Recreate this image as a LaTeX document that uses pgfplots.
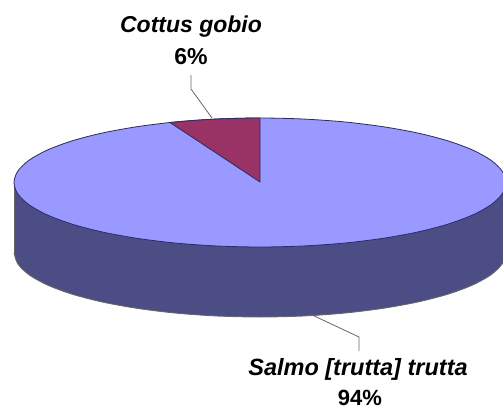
\documentclass[border=0pt]{standalone}
\usepackage{pgfplots}
\pgfplotsset{compat=1.18}
\usepackage{fontspec}
\setmainfont{Liberation Sans}
\definecolor{pietop}{HTML}{9999FF}
\definecolor{pieside}{HTML}{4D4D85}
\definecolor{wedge}{HTML}{993366}
\definecolor{edge}{HTML}{2A2A66}
\definecolor{leader}{HTML}{666666}
\begin{document}
\begin{tikzpicture}
\useasboundingbox (0,0) rectangle (503pt,412pt);
\begin{axis}[
  at={(0,0)}, anchor=south west,
  width=503pt, height=412pt, scale only axis,
  xmin=0, xmax=503, ymin=0, ymax=412, y dir=reverse,
  hide axis,
]
% side: body
\addplot[draw=none, fill=pieside] coordinates {(14,182.5)(506,182.5)(506,252.5)(503,258)(17,258)(14,252.5)} -- cycle;
% side: lower curve
\addplot[smooth, draw=leader, fill=pieside, line width=0.9pt] coordinates {
(14,252.5)(17.7,263.7)(28.8,274.6)(47,284.8)(71.6,294)(101.9,301.9)(137,308.3)(175.9,313.1)(217.3,316)(260,317)(302.7,316)(344.1,313.1)(383,308.3)(418.1,301.9)(448.4,294)(473,284.8)(491.2,274.6)(502.3,263.7)(506,252.5)};
\addplot[draw=leader, line width=0.9pt] coordinates {(14,178)(14,252.5)};
% top face
\addplot[smooth cycle, draw=edge, fill=pietop, line width=0.8pt] coordinates {
(506,182.5)(502.3,193.7)(491.2,204.6)(473,214.8)(448.4,224)(418.1,231.9)(383,238.3)(344.1,243.1)(302.7,246)(260,247)(217.3,246)(175.9,243.1)(137,238.3)(101.9,231.9)(71.6,224)(47,214.8)(28.8,204.6)(17.7,193.7)(14,182.5)(17.7,171.3)(28.8,160.4)(47,150.2)(71.6,141)(101.9,133.1)(137,126.7)(175.9,121.9)(217.3,119)(260,118)(302.7,119)(344.1,121.9)(383,126.7)(418.1,133.1)(448.4,141)(473,150.2)(491.2,160.4)(502.3,171.3)};
% wedge
\addplot[draw=edge, fill=wedge, line width=0.8pt] coordinates {(260,182)(260,118)(240,118.2)(217,119)(195,120.3)(170,122.5)} -- cycle;
% leaders
\addplot[leader, line width=0.8pt] coordinates {(191,75)(191,89)(212,118)};
\addplot[leader, line width=0.8pt] coordinates {(310,314)(359,337)(359,351)};
\node[inner sep=0pt, font=\fontsize{23}{26}\selectfont\bfseries\itshape] at (axis cs:191,27) {Cottus gobio};
\node[inner sep=0pt, font=\fontsize{23}{26}\selectfont\bfseries] at (axis cs:191,57) {6\%};
\node[inner sep=0pt, font=\fontsize{23.5}{26}\selectfont\bfseries\itshape] at (axis cs:358,369) {Salmo [trutta] trutta};
\node[inner sep=0pt, font=\fontsize{22}{26}\selectfont\bfseries] at (axis cs:360,398) {94\%};
\end{axis}
\end{tikzpicture}
\end{document}
